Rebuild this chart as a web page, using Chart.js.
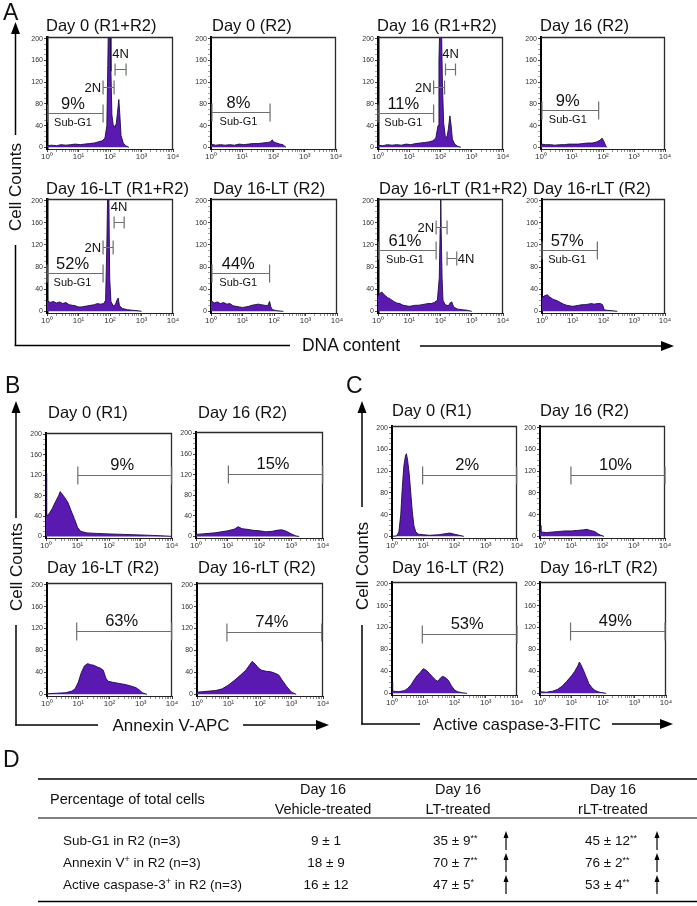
<!DOCTYPE html>
<html><head><meta charset="utf-8">
<script src="https://cdn.jsdelivr.net/npm/chart.js@4.4.1/dist/chart.umd.min.js"></script>
<style>
html,body{margin:0;padding:0;background:#fff;}
#wrap{position:relative;width:697px;height:906px;overflow:hidden;background:#fff;}
canvas{position:absolute;}
svg{position:absolute;left:0;top:0;}
</style></head>
<body><div id="wrap"></div>
<script>
// ---------------- DATA ----------------
const xTickValues = [0, 1, 2, 3, 4];
const xTickLabels = ['10\u2070', '10\u00b9', '10\u00b2', '10\u00b3', '10\u2074'];
const yTickValues = [0, 40, 80, 120, 160, 200];

// Panel A: DNA content histograms [log10 intensity, counts]
const dna_d0_all = [[0,3],[0.15,4],[0.3,3],[0.45,5],[0.6,4],[0.75,5],[0.9,6],[1.05,5],[1.2,6],[1.35,7],[1.5,8],[1.62,10],[1.75,12],[1.84,17],[1.9,40],[1.93,150],[1.95,230],[2.0,230],[2.03,140],[2.06,60],[2.1,42],[2.15,37],[2.2,44],[2.24,65],[2.28,88],[2.31,62],[2.35,22],[2.42,8],[2.5,3],[2.6,0]];
const dna_d0_r2 = [[0,6],[0.15,4],[0.3,5],[0.45,4],[0.6,5],[0.75,4],[0.9,6],[1.05,5],[1.2,6],[1.35,7],[1.5,7],[1.65,8],[1.8,9],[1.9,10],[1.96,14],[2.0,10],[2.1,8],[2.2,6],[2.3,5],[2.36,2],[2.4,0]];
const dna_d16_all = [[0,4],[0.15,3],[0.3,5],[0.45,4],[0.6,5],[0.75,4],[0.9,6],[1.05,5],[1.2,7],[1.35,8],[1.5,9],[1.62,10],[1.75,12],[1.85,17],[1.92,40],[1.95,160],[1.98,230],[2.03,230],[2.06,120],[2.1,45],[2.15,22],[2.2,17],[2.25,33],[2.3,58],[2.34,40],[2.38,15],[2.45,6],[2.55,2],[2.65,0]];
const dna_d16_r2 = [[0,6],[0.15,5],[0.3,5],[0.45,4],[0.6,5],[0.75,5],[0.9,6],[1.05,6],[1.2,6],[1.35,7],[1.5,8],[1.65,8],[1.8,10],[1.9,13],[1.97,17],[2.02,12],[2.08,4],[2.12,0]];
const dna_lt_all = [[0,20],[0.1,16],[0.2,18],[0.3,15],[0.4,17],[0.5,14],[0.6,16],[0.7,12],[0.8,11],[0.9,10],[1.0,8],[1.1,8],[1.2,9],[1.3,10],[1.4,11],[1.5,12],[1.6,14],[1.7,13],[1.8,14],[1.86,20],[1.9,120],[1.93,230],[1.96,230],[1.99,60],[2.03,18],[2.1,10],[2.17,12],[2.22,20],[2.26,24],[2.3,10],[2.4,5],[2.55,3],[2.7,2],[2.9,1],[3.0,0]];
const dna_lt_r2 = [[0,20],[0.1,15],[0.2,17],[0.3,14],[0.4,16],[0.5,13],[0.6,14],[0.7,10],[0.8,9],[0.9,8],[1.0,7],[1.1,8],[1.2,9],[1.3,11],[1.4,12],[1.5,13],[1.6,12],[1.7,11],[1.8,10],[1.86,18],[1.9,8],[1.95,3],[2.1,1],[2.3,0]];
const dna_rlt_all = [[0,28],[0.05,32],[0.12,35],[0.2,30],[0.3,25],[0.4,22],[0.5,18],[0.6,15],[0.7,14],[0.8,11],[0.9,10],[1.0,9],[1.1,10],[1.2,11],[1.3,11],[1.4,12],[1.5,13],[1.6,14],[1.7,14],[1.8,16],[1.9,20],[1.96,60],[1.99,150],[2.005,230],[2.02,150],[2.05,60],[2.08,20],[2.15,12],[2.25,10],[2.32,16],[2.36,17],[2.42,8],[2.55,4],[2.7,3],[2.85,2],[3.0,0]];
const dna_rlt_r2 = [[0,25],[0.08,28],[0.17,30],[0.25,26],[0.35,22],[0.5,19],[0.6,16],[0.7,13],[0.8,11],[0.9,10],[1.0,9],[1.1,10],[1.2,11],[1.3,12],[1.4,12],[1.5,13],[1.6,14],[1.7,13],[1.8,14],[1.9,14],[1.97,12],[2.02,3],[2.1,2],[2.3,1],[2.45,0]];

// Panel B: Annexin V-APC histograms
const anx_d0_r1 = [[0,124],[0.02,40],[0.1,45],[0.2,55],[0.3,68],[0.4,80],[0.45,88],[0.5,84],[0.6,76],[0.7,66],[0.8,50],[0.9,35],[1.0,18],[1.1,10],[1.3,7],[1.6,6],[2.0,5],[2.5,4],[3.0,3],[3.4,2],[3.8,1],[4.0,0]];
const anx_d16_r2 = [[0,4],[0.2,5],[0.4,6],[0.6,7],[0.8,9],[1.0,11],[1.2,14],[1.33,19],[1.45,15],[1.6,14],[1.8,12],[2.0,11],[2.2,9],[2.4,10],[2.55,12],[2.7,13],[2.85,10],[3.0,5],[3.15,1],[3.25,0]];
const anx_lt_r2 = [[0,1],[0.3,2],[0.6,3],[0.8,6],[0.9,10],[1.0,22],[1.1,40],[1.2,52],[1.3,56],[1.4,54],[1.5,53],[1.6,50],[1.7,48],[1.8,44],[1.88,30],[1.95,24],[2.1,22],[2.3,20],[2.5,18],[2.7,15],[2.85,12],[2.95,8],[3.05,3],[3.2,0]];
const anx_rlt_r2 = [[0,4],[0.2,5],[0.4,6],[0.6,7],[0.8,10],[1.0,17],[1.2,26],[1.4,36],[1.55,44],[1.65,52],[1.75,60],[1.85,55],[1.95,48],[2.05,44],[2.2,42],[2.35,41],[2.5,38],[2.6,35],[2.7,26],[2.85,14],[3.0,4],[3.15,0]];

// Panel C: Active caspase-3-FITC histograms
const casp_d0_r1 = [[0,0],[0.15,1],[0.22,8],[0.28,40],[0.33,90],[0.38,130],[0.43,148],[0.46,152],[0.5,140],[0.55,115],[0.6,80],[0.65,45],[0.7,20],[0.76,8],[0.85,4],[1.0,3],[1.2,2],[1.5,3],[1.7,5],[1.85,6],[2.0,4],[2.15,2],[2.3,0]];
const casp_d16_r2 = [[0,20],[0.03,8],[0.2,7],[0.4,8],[0.6,9],[0.8,10],[1.0,10],[1.2,11],[1.4,12],[1.5,13],[1.6,11],[1.75,9],[1.85,5],[1.95,2],[2.05,0]];
const casp_lt_r2 = [[0,20],[0.02,4],[0.2,3],[0.4,5],[0.5,9],[0.6,15],[0.7,24],[0.8,32],[0.9,38],[1.0,45],[1.1,42],[1.2,36],[1.3,30],[1.4,24],[1.47,22],[1.55,28],[1.62,31],[1.7,29],[1.8,24],[1.9,14],[2.0,6],[2.1,3],[2.25,1],[2.4,0]];
const casp_rlt_r2 = [[0,3],[0.2,2],[0.4,4],[0.55,7],[0.7,13],[0.85,22],[1.0,32],[1.1,40],[1.2,50],[1.25,57],[1.3,52],[1.38,42],[1.45,32],[1.55,18],[1.65,10],[1.75,5],[1.9,2],[2.1,0]];

// Gates [from log10, to log10, count level] and their labels
const gates_d0_all = [[0.03,1.78,63],[1.78,2.13,111],[2.16,2.51,144]];
const texts_d0_all = ['9%','2N','4N'];
const gates_d0_r2 = [[0.03,1.89,65]];
const texts_d0_r2 = ['8%'];
const gates_d16_all = [[0.0,1.78,63],[1.78,2.13,111],[2.16,2.48,144]];
const texts_d16_all = ['11%','2N','4N'];
const gates_d16_r2 = [[0.03,1.86,68]];
const texts_d16_r2 = ['9%'];
const gates_lt_all = [[0.0,1.78,70],[1.78,2.1,117],[2.13,2.45,162]];
const texts_lt_all = ['52%','2N','4N'];
const gates_lt_r2 = [[0.03,1.86,70]];
const texts_lt_r2 = ['44%'];
const gates_rlt_all = [[0.03,1.86,110],[1.86,2.21,153],[2.21,2.52,97]];
const texts_rlt_all = ['61%','2N','4N'];
const gates_rlt_r2 = [[0.0,1.8,111]];
const texts_rlt_r2 = ['57%'];
const gates_anx = [[1.01,3.99,121],[1.02,3.99,121],[0.95,3.99,115],[0.95,3.96,113]];
const texts_anx = ['9%','15%','63%','74%'];
const gates_casp = [[0.98,3.99,112],[0.99,4.0,112],[0.97,4.0,108],[0.97,3.97,114]];
const texts_casp = ['2%','10%','53%','49%'];
const subLabel = 'Sub-G1';

// Panel D table
const tableHeadLeft = 'Percentage of total cells';
const tableHead1 = ['Day 16','Day 16','Day 16'];
const tableHead2 = ['Vehicle-treated','LT-treated','rLT-treated'];
const rowMain = ['Sub-G1 in R2 (n=3)','Annexin V','Active caspase-3'];
const rowSup = ['','+','+'];
const rowRest = ['',' in R2 (n=3)',' in R2 (n=3)'];
const vehMean = [9,18,16], vehSD = [1,9,12];
const ltMean = [35,70,47], ltSD = [9,7,5], ltStars = ['**','**','*'];
const rltMean = [45,76,53], rltSD = [12,2,4], rltStars = ['**','**','**'];

// ---------------- LAYOUT ----------------
const FONT = '"Liberation Sans", Arial, Helvetica, sans-serif';
const PURPLE = '#5a1ab2';
const OUTLINE = '#1b0c3c';
const GATE = '#6e6e6e';

const plots = [
 {l:47,r:173,t:37,b:149, title:'Day 0 (R1+R2)', tx:46, ty:31, data:dna_d0_all, gates:gates_d0_all, texts:texts_d0_all, place:['sub','left','top'], caps:[9,7,6], lw:2.5},
 {l:211,r:336,t:37,b:149, title:'Day 0 (R2)', tx:212, ty:31, data:dna_d0_r2, gates:gates_d0_r2, texts:texts_d0_r2, place:['sub'], caps:[9], lw:2},
 {l:378,r:503,t:37,b:149, title:'Day 16 (R1+R2)', tx:377, ty:31, data:dna_d16_all, gates:gates_d16_all, texts:texts_d16_all, place:['sub','left','top'], caps:[9,7,6], lw:2.5},
 {l:541,r:665,t:37,b:149, title:'Day 16 (R2)', tx:540, ty:31, data:dna_d16_r2, gates:gates_d16_r2, texts:texts_d16_r2, place:['sub'], caps:[9], lw:2},
 {l:47,r:173,t:199,b:313, title:'Day 16-LT (R1+R2)', tx:46, ty:194, data:dna_lt_all, gates:gates_lt_all, texts:texts_lt_all, place:['sub','left','top'], caps:[9,7,6], lw:2.5},
 {l:211,r:337,t:199,b:313, title:'Day 16-LT (R2)', tx:213, ty:194, data:dna_lt_r2, gates:gates_lt_r2, texts:texts_lt_r2, place:['sub'], caps:[9], lw:2},
 {l:378,r:503,t:199,b:313, title:'Day 16-rLT (R1+R2)', tx:379, ty:194, data:dna_rlt_all, gates:gates_rlt_all, texts:texts_rlt_all, place:['sub','left','right'], caps:[9,7,7], lw:2.5},
 {l:542,r:665,t:199,b:313, title:'Day 16-rLT (R2)', tx:533, ty:194, data:dna_rlt_r2, gates:gates_rlt_r2, texts:texts_rlt_r2, place:['sub'], caps:[9], lw:2},

 {l:46,r:172,t:433,b:538, title:'Day 0 (R1)', tx:48, ty:418, data:anx_d0_r1, gates:[gates_anx[0]], texts:[texts_anx[0]], place:['pct'], caps:[9], lw:2},
 {l:196,r:323,t:432,b:538, title:'Day 16 (R2)', tx:198, ty:418, data:anx_d16_r2, gates:[gates_anx[1]], texts:[texts_anx[1]], place:['pct'], caps:[9], lw:2},
 {l:47,r:172,t:583,b:696, title:'Day 16-LT (R2)', tx:47, ty:573, data:anx_lt_r2, gates:[gates_anx[2]], texts:[texts_anx[2]], place:['pct'], caps:[9], lw:2},
 {l:197,r:323,t:583,b:696, title:'Day 16-rLT (R2)', tx:198, ty:573, data:anx_rlt_r2, gates:[gates_anx[3]], texts:[texts_anx[3]], place:['pct'], caps:[9], lw:2},

 {l:392,r:517,t:426,b:538, title:'Day 0 (R1)', tx:392, ty:416, data:casp_d0_r1, gates:[gates_casp[0]], texts:[texts_casp[0]], place:['pct'], caps:[9], lw:2},
 {l:540,r:665,t:426,b:538, title:'Day 16 (R2)', tx:540, ty:416, data:casp_d16_r2, gates:[gates_casp[1]], texts:[texts_casp[1]], place:['pct'], caps:[9], lw:2},
 {l:392,r:517,t:582,b:695, title:'Day 16-LT (R2)', tx:392, ty:573, data:casp_lt_r2, gates:[gates_casp[2]], texts:[texts_casp[2]], place:['pct'], caps:[9], lw:2},
 {l:540,r:666,t:582,b:695, title:'Day 16-rLT (R2)', tx:540, ty:573, data:casp_rlt_r2, gates:[gates_casp[3]], texts:[texts_casp[3]], place:['pct'], caps:[9], lw:2}
];

// tick positions (majors plus log minor ticks)
const xTicksAll = [];
xTickValues.forEach(k => { xTicksAll.push(k); if (k < 4) for (let m = 2; m <= 9; m++) xTicksAll.push(k + Math.log10(m)); });
const yTicksAll = [];
for (let v = 0; v <= 200; v += 10) yTicksAll.push(v);
const isMajorX = v => Math.abs(v - Math.round(v)) < 1e-9;

const wrap = document.getElementById('wrap');
Chart.defaults.font.family = FONT;

function makePlot(p) {
  const c = document.createElement('canvas');
  const cw = p.r - p.l + 32, ch = p.b - p.t + 22;
  c.width = cw; c.height = ch;
  c.style.left = (p.l - 24) + 'px'; c.style.top = (p.t - 6) + 'px';
  c.style.width = cw + 'px'; c.style.height = ch + 'px';
  wrap.appendChild(c);
  const deco = {
    id: 'deco',
    afterDraw(chart) {
      const ctx = chart.ctx, a = chart.chartArea;
      const xs = chart.scales.x, ys = chart.scales.y;
      ctx.save();
      // top & right frame
      ctx.strokeStyle = '#2a2a2a'; ctx.lineWidth = 1.3;
      ctx.beginPath(); ctx.moveTo(a.left, a.top + 0.5); ctx.lineTo(a.right - 0.5, a.top + 0.5); ctx.lineTo(a.right - 0.5, a.bottom); ctx.stroke();
      // gates
      p.gates.forEach((g, i) => {
        const x1 = xs.getPixelForValue(g[0]), x2 = xs.getPixelForValue(g[1]), y = Math.round(ys.getPixelForValue(g[2])) + 0.5;
        const cap = p.caps[i];
        ctx.strokeStyle = GATE; ctx.lineWidth = 1.2;
        ctx.beginPath();
        ctx.moveTo(x1, y); ctx.lineTo(x2, y);
        ctx.moveTo(x1, y - cap); ctx.lineTo(x1, y + cap);
        ctx.moveTo(x2, y - cap); ctx.lineTo(x2, y + cap);
        ctx.stroke();
        ctx.fillStyle = '#111';
        const cx = (x1 + x2) / 2 - 2.5;
        const pl = p.place[i], t = p.texts[i];
        if (pl === 'sub') {
          ctx.font = '16.5px ' + FONT; ctx.textAlign = 'center'; ctx.textBaseline = 'alphabetic';
          ctx.fillText(t, cx, y - 4.5);
          ctx.font = '11px ' + FONT;
          ctx.fillText(subLabel, cx, y + 12);
        } else if (pl === 'pct') {
          ctx.font = '16.5px ' + FONT; ctx.textAlign = 'center'; ctx.textBaseline = 'alphabetic';
          ctx.fillText(t, cx, y - 6);
        } else if (pl === 'left') {
          ctx.font = '13px ' + FONT; ctx.textAlign = 'right'; ctx.textBaseline = 'alphabetic';
          ctx.fillText(t, x1 - 2, y + 4.5);
        } else if (pl === 'right') {
          ctx.font = '13px ' + FONT; ctx.textAlign = 'left'; ctx.textBaseline = 'alphabetic';
          ctx.fillText(t, x2 + 1, y + 4.5);
        } else if (pl === 'top') {
          ctx.font = '13px ' + FONT; ctx.textAlign = 'center'; ctx.textBaseline = 'alphabetic';
          ctx.fillText(t, (x1 + x2) / 2, y - cap - 6);
        }
      });
      ctx.restore();
    }
  };
  new Chart(c, {
    type: 'line',
    data: { datasets: [{
      data: p.data.map(d => ({x: d[0], y: d[1]})),
      fill: 'origin', backgroundColor: PURPLE, borderColor: OUTLINE, borderWidth: 0.9,
      pointRadius: 0, tension: 0
    }] },
    options: {
      responsive: false, animation: false, devicePixelRatio: 1,
      layout: { padding: { left: 2, top: 6, right: 8, bottom: 2 } },
      plugins: { legend: { display: false }, tooltip: { enabled: false }, title: { display: false } },
      events: [],
      scales: {
        x: {
          type: 'linear', min: 0, max: 4,
          afterBuildTicks: s => { s.ticks = xTicksAll.map(v => ({ value: v })); },
          afterFit: s => { s.height = 14; },
          ticks: { autoSkip: false, maxRotation: 0, minRotation: 0, padding: 0, color: '#333',
            font: { family: FONT, size: 8 },
            callback: v => { if (!isMajorX(v)) return ''; return xTickLabels[xTickValues.indexOf(Math.round(v))]; } },
          grid: { drawOnChartArea: false, drawTicks: true, tickLength: 3, color: '#444',
            tickWidth: ctx => (ctx.tick && isMajorX(ctx.tick.value)) ? 1 : 0.6 },
          border: { display: true, color: '#222', width: 1 }
        },
        y: {
          type: 'linear', min: -3, max: 203,
          afterBuildTicks: s => { s.ticks = yTicksAll.map(v => ({ value: v })); },
          afterFit: s => { s.width = 22; },
          ticks: { autoSkip: false, padding: 1, color: '#333', font: { family: FONT, size: 7 },
            callback: v => yTickValues.includes(v) ? String(v) : '' },
          grid: { drawOnChartArea: false, drawTicks: true, tickLength: 3, color: '#444',
            tickWidth: ctx => (ctx.tick && yTickValues.includes(ctx.tick.value)) ? 1 : 0.5 },
          border: { display: true, color: '#000', width: p.lw }
        }
      }
    },
    plugins: [deco]
  });
}
plots.forEach(makePlot);

// ---------------- SVG text & decorations ----------------
const NS = 'http://www.w3.org/2000/svg';
let s = '';
const T = (x, y, txt, size, extra) => `<text x="${x}" y="${y}" font-size="${size}" ${extra || ''}>${txt}</text>`;
// titles
plots.forEach(p => { s += T(p.tx, p.ty, p.title, 16.5); });
// panel letters
s += T(3, 20, 'A', 23) + T(5, 393, 'B', 23) + T(346, 393, 'C', 23) + T(3, 767, 'D', 23);
// axis arrows
const L = (x1, y1, x2, y2, w) => `<line x1="${x1}" y1="${y1}" x2="${x2}" y2="${y2}" stroke="#000" stroke-width="${w || 1.5}"/>`;
const P = pts => `<polygon points="${pts}" fill="#000"/>`;
// A
s += L(15.5, 33, 15.5, 135) + P('15.5,22 11,34 20,34');
s += `<text transform="rotate(-90)" x="-187" y="15.5" font-size="17" text-anchor="middle" dominant-baseline="central">Cell Counts</text>`;
s += L(15.5, 245, 15.5, 346) + L(14.75, 345.5, 290, 345.5);
s += T(351, 345, 'DNA content', 17.5, 'text-anchor="middle" dominant-baseline="central"');
s += L(420, 346, 662, 346) + P('674,346 661,341 661,351');
// B
s += L(16, 412, 16, 518) + P('16,401 11.5,413 20.5,413');
s += `<text transform="rotate(-90)" x="-567" y="16" font-size="17" text-anchor="middle" dominant-baseline="central">Cell Counts</text>`;
s += L(16, 625, 16, 725.5) + L(15.25, 725, 98, 725);
s += T(171, 725, 'Annexin V-APC', 17, 'text-anchor="middle" dominant-baseline="central"');
s += L(243, 725, 318, 725) + P('329,725 316,720 316,730');
// C
s += L(362, 412, 362, 507) + P('362,401 357.5,413 366.5,413');
s += `<text transform="rotate(-90)" x="-566" y="362" font-size="17" text-anchor="middle" dominant-baseline="central">Cell Counts</text>`;
s += L(362, 625, 362, 724.5) + L(361.25, 724, 420, 724);
s += T(517, 724, 'Active caspase-3-FITC', 16.5, 'text-anchor="middle" dominant-baseline="central"');
s += L(612, 724, 662, 724) + P('673,724 660,719 660,729');

// table D
s += L(38, 779, 697, 779, 1.5) + L(38, 818, 697, 818, 1.2) + L(38, 901.5, 697, 901.5, 1.5);
s += T(50, 804, tableHeadLeft, 14.5);
const colX = [323, 458, 613];
colX.forEach((x, i) => {
  s += T(x, 794, tableHead1[i], 14.5, 'text-anchor="middle"');
  s += T(x, 814, tableHead2[i], 14.5, 'text-anchor="middle"');
});
const rowY = [845, 867, 889];
rowY.forEach((y, i) => {
  let lab = rowMain[i];
  if (rowSup[i]) lab += `<tspan dy="-5" font-size="9">${rowSup[i]}</tspan><tspan dy="5">${rowRest[i]}</tspan>`;
  s += T(63, y, lab, 13.5);
  s += T(326, y, `${vehMean[i]} \u00b1 ${vehSD[i]}`, 13.5, 'text-anchor="middle"');
  s += T(433, y, `${ltMean[i]} \u00b1 ${ltSD[i]}<tspan dy="-4" font-size="9">${ltStars[i]}</tspan>`, 13.5);
  s += T(585, y, `${rltMean[i]} \u00b1 ${rltSD[i]}<tspan dy="-4" font-size="9">${rltStars[i]}</tspan>`, 13.5);
  [506, 657].forEach(ax => {
    s += L(ax, y - 8, ax, y + 5, 1.2) + P(`${ax},${y - 14} ${ax - 2.5},${y - 7} ${ax + 2.5},${y - 7}`);
  });
});

const svg = document.createElementNS(NS, 'svg');
svg.setAttribute('width', '697'); svg.setAttribute('height', '906');
svg.setAttribute('font-family', 'Liberation Sans, Arial, Helvetica, sans-serif');
svg.setAttribute('fill', '#111');
svg.innerHTML = s;
wrap.appendChild(svg);
</script></body></html>
